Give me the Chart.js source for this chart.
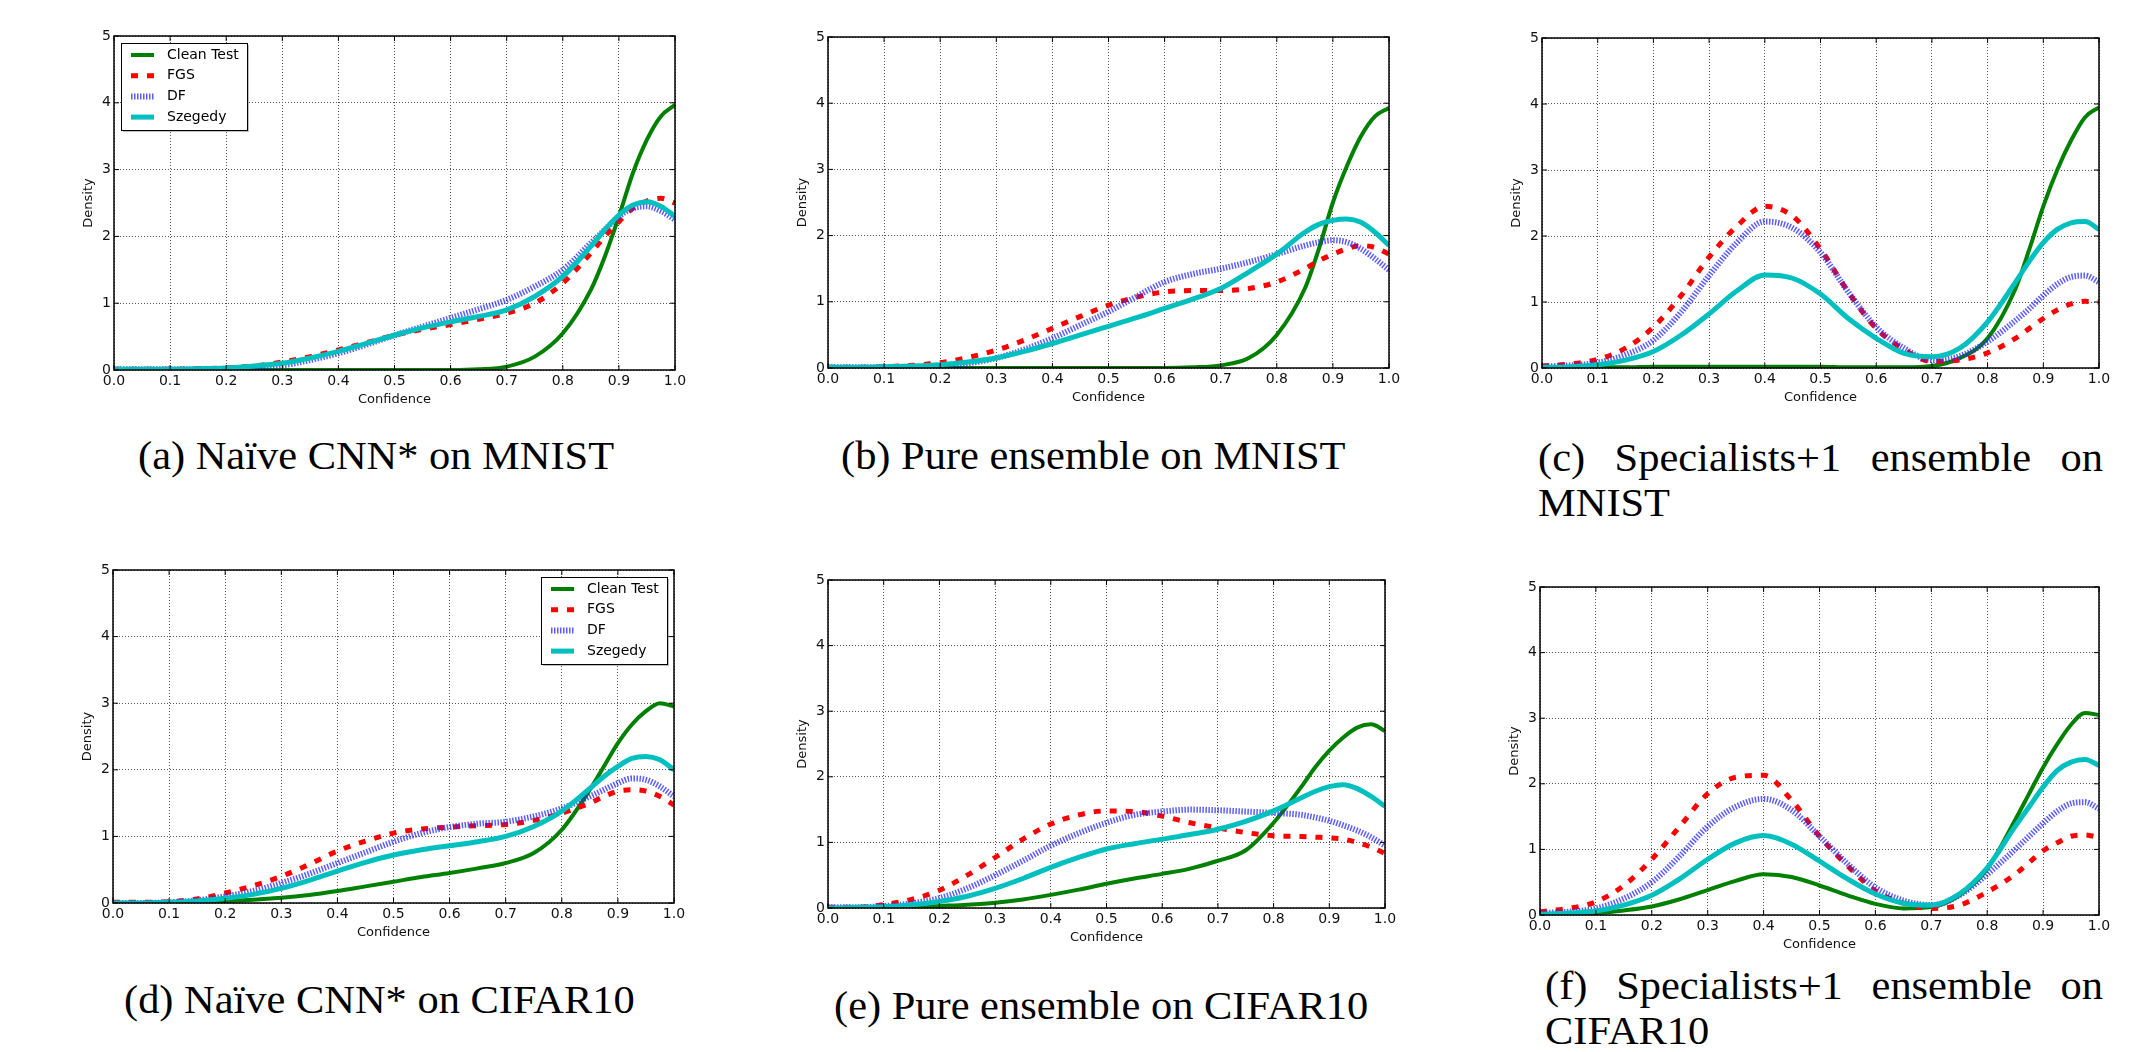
<!DOCTYPE html>
<html>
<head>
<meta charset="utf-8">
<script src="https://cdn.jsdelivr.net/npm/chart.js@4.4.1/dist/chart.umd.min.js"></script>
<style>
  html, body { margin: 0; padding: 0; background: #fff; }
  body { width: 2151px; height: 1052px; position: relative; overflow: hidden; }
  canvas { position: absolute; }
  .cap {
    position: absolute;
    font-family: "Liberation Serif", "Times New Roman", serif;
    font-size: 41px;
    line-height: 44px;
    white-space: nowrap;
    color: #000;
    transform: scaleX(1.035);
    transform-origin: 0 0;
  }
  .just { text-align: justify; text-align-last: justify; }
</style>
</head>
<body>
<div id="captions"></div>
<script>
// x grid shared by every curve (confidence)
const confidence = [0, 0.05, 0.1, 0.15, 0.2, 0.25, 0.3, 0.35, 0.4, 0.45, 0.5, 0.55,
  0.6, 0.65, 0.7, 0.75, 0.8, 0.85, 0.875, 0.9, 0.925, 0.95, 0.975, 1.0];
const seriesNames = ["Clean Test", "FGS", "DF", "Szegedy"];

// (a) Naive CNN* on MNIST
const cleanA = [0, 0, 0, 0, 0, 0, 0, 0, 0, 0, 0, 0, 0, 0.01, 0.05, 0.2, 0.55, 1.2, 1.7, 2.3, 2.95, 3.45, 3.8, 3.97];
const fgsA   = [0.01, 0.01, 0.01, 0.02, 0.03, 0.06, 0.12, 0.2, 0.3, 0.41, 0.52, 0.61, 0.68, 0.76, 0.85, 1.0, 1.3, 1.75, 2.0, 2.22, 2.42, 2.53, 2.57, 2.5];
const dfA    = [0.01, 0.01, 0.01, 0.01, 0.02, 0.04, 0.07, 0.15, 0.25, 0.38, 0.52, 0.65, 0.78, 0.91, 1.05, 1.25, 1.5, 1.9, 2.1, 2.3, 2.42, 2.45, 2.38, 2.25];
const szA    = [0.01, 0.01, 0.01, 0.02, 0.03, 0.06, 0.1, 0.18, 0.28, 0.4, 0.52, 0.63, 0.72, 0.8, 0.9, 1.1, 1.4, 1.85, 2.1, 2.32, 2.47, 2.52, 2.45, 2.3];

// (b) Pure ensemble on MNIST
const cleanB = [0, 0, 0, 0, 0, 0, 0, 0, 0, 0, 0, 0, 0, 0.01, 0.04, 0.15, 0.5, 1.2, 1.8, 2.5, 3.05, 3.5, 3.8, 3.93];
const fgsB   = [0.01, 0.01, 0.02, 0.04, 0.08, 0.16, 0.27, 0.42, 0.6, 0.78, 0.95, 1.07, 1.15, 1.17, 1.17, 1.2, 1.3, 1.5, 1.62, 1.72, 1.8, 1.85, 1.82, 1.72];
const dfB    = [0.01, 0.01, 0.01, 0.01, 0.03, 0.07, 0.15, 0.28, 0.45, 0.65, 0.85, 1.08, 1.3, 1.42, 1.5, 1.6, 1.72, 1.85, 1.9, 1.93, 1.9, 1.8, 1.65, 1.48];
const szB    = [0.01, 0.01, 0.02, 0.03, 0.05, 0.09, 0.15, 0.25, 0.37, 0.5, 0.63, 0.76, 0.9, 1.04, 1.2, 1.45, 1.72, 2.05, 2.17, 2.23, 2.25, 2.2, 2.05, 1.85];

// (c) Specialists+1 ensemble on MNIST
const cleanC = [0, 0.01, 0.01, 0.01, 0.02, 0.02, 0.02, 0.02, 0.02, 0.02, 0.02, 0.01, 0.01, 0.01, 0.03, 0.15, 0.45, 1.2, 1.8, 2.45, 3.0, 3.45, 3.8, 3.95];
const fgsC   = [0.03, 0.06, 0.13, 0.3, 0.62, 1.1, 1.68, 2.15, 2.45, 2.3, 1.8, 1.15, 0.6, 0.28, 0.1, 0.12, 0.23, 0.45, 0.6, 0.75, 0.88, 0.97, 1.01, 1.0];
const dfC    = [0.02, 0.04, 0.08, 0.2, 0.42, 0.85, 1.4, 1.9, 2.22, 2.12, 1.75, 1.15, 0.62, 0.3, 0.12, 0.18, 0.4, 0.72, 0.9, 1.1, 1.27, 1.38, 1.4, 1.3];
const szC    = [0.01, 0.02, 0.05, 0.12, 0.25, 0.5, 0.82, 1.17, 1.41, 1.36, 1.12, 0.75, 0.45, 0.22, 0.17, 0.3, 0.7, 1.3, 1.62, 1.9, 2.1, 2.2, 2.22, 2.1];

// (d) Naive CNN* on CIFAR10
const cleanD = [0, 0, 0.01, 0.02, 0.03, 0.05, 0.08, 0.12, 0.18, 0.25, 0.32, 0.39, 0.45, 0.52, 0.6, 0.75, 1.1, 1.7, 2.05, 2.4, 2.68, 2.88, 3.0, 2.95];
const fgsD   = [0.01, 0.01, 0.02, 0.06, 0.15, 0.26, 0.4, 0.58, 0.78, 0.93, 1.05, 1.11, 1.14, 1.16, 1.18, 1.24, 1.35, 1.5, 1.6, 1.68, 1.7, 1.68, 1.6, 1.47];
const dfD    = [0, 0, 0.01, 0.04, 0.1, 0.18, 0.3, 0.44, 0.6, 0.76, 0.92, 1.05, 1.14, 1.19, 1.22, 1.3, 1.42, 1.6, 1.7, 1.8, 1.87, 1.85, 1.75, 1.6];
const szD    = [0, 0, 0.01, 0.03, 0.07, 0.13, 0.22, 0.34, 0.48, 0.61, 0.72, 0.8, 0.86, 0.92, 1.0, 1.15, 1.38, 1.72, 1.9, 2.05, 2.17, 2.2, 2.15, 2.0];

// (e) Pure ensemble on CIFAR10
const cleanE = [0, 0, 0, 0.01, 0.03, 0.05, 0.08, 0.13, 0.2, 0.28, 0.37, 0.45, 0.52, 0.6, 0.72, 0.88, 1.3, 1.85, 2.15, 2.4, 2.6, 2.75, 2.8, 2.7];
const fgsE   = [0.01, 0.01, 0.05, 0.13, 0.27, 0.5, 0.77, 1.05, 1.28, 1.42, 1.48, 1.47, 1.4, 1.3, 1.22, 1.15, 1.1, 1.09, 1.08, 1.07, 1.05, 1.0, 0.93, 0.83];
const dfE    = [0.01, 0.01, 0.03, 0.07, 0.15, 0.3, 0.5, 0.72, 0.95, 1.14, 1.3, 1.42, 1.47, 1.5, 1.49, 1.47, 1.45, 1.42, 1.38, 1.33, 1.26, 1.18, 1.08, 0.95];
const szE    = [0, 0.01, 0.02, 0.05, 0.1, 0.18, 0.3, 0.45, 0.62, 0.77, 0.9, 0.98, 1.05, 1.12, 1.2, 1.32, 1.48, 1.68, 1.78, 1.85, 1.88, 1.82, 1.7, 1.55];

// (f) Specialists+1 ensemble on CIFAR10
const cleanF = [0, 0.01, 0.03, 0.07, 0.13, 0.24, 0.38, 0.52, 0.62, 0.58, 0.45, 0.3, 0.17, 0.1, 0.12, 0.3, 0.7, 1.45, 1.85, 2.25, 2.6, 2.9, 3.08, 3.05];
const fgsF   = [0.05, 0.1, 0.2, 0.45, 0.85, 1.35, 1.85, 2.1, 2.13, 1.75, 1.2, 0.75, 0.37, 0.18, 0.1, 0.15, 0.35, 0.62, 0.8, 0.98, 1.1, 1.2, 1.22, 1.18];
const dfF    = [0.03, 0.05, 0.1, 0.25, 0.5, 0.9, 1.35, 1.65, 1.77, 1.6, 1.2, 0.78, 0.42, 0.22, 0.15, 0.3, 0.62, 1.0, 1.2, 1.4, 1.58, 1.7, 1.72, 1.62];
const szF    = [0.01, 0.03, 0.06, 0.15, 0.3, 0.55, 0.85, 1.1, 1.21, 1.08, 0.82, 0.55, 0.32, 0.18, 0.15, 0.32, 0.72, 1.35, 1.65, 1.95, 2.2, 2.33, 2.37, 2.28];

const lineStyles = [
  { color: "#008000", width: 4, dash: [] },                      // Clean Test
  { color: "#ff0000", width: 5, dash: [7, 9] },                  // FGS
  { color: "rgba(40,40,255,0.75)", width: 6, dash: [1.5, 1.5] },  // DF
  { color: "#00bfbf", width: 5, dash: [] }                       // Szegedy
];

// plot area boxes [left, top, right, bottom] in page px
const panels = [
  { box: [114, 36, 675, 370], series: [cleanA, fgsA, dfA, szA], legend: "left" },
  { box: [828, 37, 1389, 368], series: [cleanB, fgsB, dfB, szB] },
  { box: [1542, 38, 2099, 368], series: [cleanC, fgsC, dfC, szC] },
  { box: [113, 570, 674, 903], series: [cleanD, fgsD, dfD, szD], legend: "right" },
  { box: [828, 580, 1385, 908], series: [cleanE, fgsE, dfE, szE] },
  { box: [1540, 587, 2099, 915], series: [cleanF, fgsF, dfF, szF] }
];

const captions = [
  { lines: ["(a) Naïve CNN* on MNIST"], left: 138, top: 433 },
  { lines: ["(b) Pure ensemble on MNIST"], left: 841, top: 433 },
  { lines: ["(c) Specialists+1 ensemble on", "MNIST"], left: 1538, top: 435, width: 565 },
  { lines: ["(d) Naïve CNN* on CIFAR10"], left: 124, top: 977 },
  { lines: ["(e) Pure ensemble on CIFAR10"], left: 834, top: 983 },
  { lines: ["(f) Specialists+1 ensemble on", "CIFAR10"], left: 1545, top: 963, width: 558 }
];
const capScale = 1.035;

const tickFont = { family: "DejaVu Sans", size: 14 };
const titleFont = { family: "DejaVu Sans", size: 13 };

// frame, inward ticks and the inside legend, like the old matplotlib look
const framePlugin = {
  id: "frameBox",
  afterDatasetsDraw(chart, args, opts) {
    const { ctx, chartArea: a, scales } = chart;
    ctx.save();
    ctx.setLineDash([]);
    ctx.strokeStyle = "#000";
    ctx.lineWidth = 1.5;
    ctx.strokeRect(a.left, a.top, a.right - a.left, a.bottom - a.top);
    ctx.lineWidth = 1;
    ctx.beginPath();
    scales.x.ticks.forEach(t => {
      const px = scales.x.getPixelForValue(t.value);
      ctx.moveTo(px, a.bottom); ctx.lineTo(px, a.bottom - 5);
      ctx.moveTo(px, a.top); ctx.lineTo(px, a.top + 5);
    });
    scales.y.ticks.forEach(t => {
      const py = scales.y.getPixelForValue(t.value);
      ctx.moveTo(a.left, py); ctx.lineTo(a.left + 5, py);
      ctx.moveTo(a.right, py); ctx.lineTo(a.right - 5, py);
    });
    ctx.stroke();

    if (opts.legend) {
      const w = 126, h = 87;
      const x0 = opts.legend === "left" ? a.left + 7 : a.right - 7 - w;
      const y0 = a.top + 7;
      ctx.fillStyle = "rgba(0,0,0,0.25)";
      ctx.fillRect(x0 + 2, y0 + 2, w, h);
      ctx.fillStyle = "#fff";
      ctx.fillRect(x0, y0, w, h);
      ctx.strokeStyle = "#000";
      ctx.lineWidth = 1;
      ctx.strokeRect(x0 + 0.5, y0 + 0.5, w, h);
      ctx.font = "14px 'DejaVu Sans'";
      ctx.textBaseline = "middle";
      seriesNames.forEach((name, i) => {
        const st = lineStyles[i];
        const y = y0 + 12 + i * 20.7;
        ctx.strokeStyle = st.color;
        ctx.lineWidth = st.width;
        ctx.setLineDash(st.dash);
        ctx.beginPath();
        ctx.moveTo(x0 + 10, y);
        ctx.lineTo(x0 + 33, y);
        ctx.stroke();
        ctx.setLineDash([]);
        ctx.fillStyle = "#000";
        ctx.fillText(name, x0 + 46, y);
      });
    }
    ctx.restore();
  }
};

function buildConfig(p) {
  return {
    type: "line",
    data: {
      datasets: seriesNames.map((name, i) => ({
        label: name,
        data: confidence.map((x, j) => ({ x: x, y: p.series[i][j] })),
        borderColor: lineStyles[i].color,
        borderWidth: lineStyles[i].width,
        borderDash: lineStyles[i].dash,
        borderCapStyle: "butt",
        pointRadius: 0,
        fill: false,
        cubicInterpolationMode: "monotone",
        clip: 0,
        order: 3 - i
      }))
    },
    options: {
      responsive: false,
      maintainAspectRatio: false,
      animation: false,
      devicePixelRatio: 1,
      layout: { padding: { top: 12, right: 22, left: 0, bottom: 0 } },
      plugins: {
        legend: { display: false },
        tooltip: { enabled: false },
        frameBox: { legend: p.legend }
      },
      scales: {
        x: {
          type: "linear",
          min: 0,
          max: 1,
          afterFit: s => { s.height = 37; },
          ticks: {
            stepSize: 0.1,
            autoSkip: false,
            maxRotation: 0,
            padding: 3,
            color: "#111",
            font: tickFont,
            callback: v => v.toFixed(1)
          },
          grid: { color: "#555", lineWidth: 1, drawTicks: false },
          border: { display: false, dash: [1, 2] },
          title: { display: true, text: "Confidence", font: titleFont, color: "#111", padding: 0 }
        },
        y: {
          min: 0,
          max: 5,
          afterFit: s => { s.width = 33; },
          ticks: {
            stepSize: 1,
            padding: 3,
            color: "#111",
            font: tickFont
          },
          grid: { color: "#555", lineWidth: 1, drawTicks: false },
          border: { display: false, dash: [1, 2] },
          title: { display: true, text: "Density", font: titleFont, color: "#111", padding: 0 }
        }
      }
    },
    plugins: [framePlugin]
  };
}

panels.forEach(p => {
  const [l, t, r, b] = p.box;
  const canvas = document.createElement("canvas");
  document.body.appendChild(canvas);
  // first pass to learn the margins around the plot area
  canvas.width = 700; canvas.height = 420;
  let chart = new Chart(canvas, buildConfig(p));
  const a = chart.chartArea;
  const mL = a.left, mT = a.top, mR = chart.width - a.right, mB = chart.height - a.bottom;
  chart.destroy();
  canvas.width = (r - l) + mL + mR;
  canvas.height = (b - t) + mT + mB;
  canvas.style.width = canvas.width + "px";
  canvas.style.height = canvas.height + "px";
  chart = new Chart(canvas, buildConfig(p));
  canvas.style.left = (l - chart.chartArea.left) + "px";
  canvas.style.top = (t - chart.chartArea.top) + "px";
});

const capBox = document.getElementById("captions");
captions.forEach(c => {
  c.lines.forEach((txt, k) => {
    const d = document.createElement("div");
    d.className = "cap";
    d.textContent = txt;
    d.style.left = c.left + "px";
    d.style.top = (c.top + k * 45) + "px";
    if (c.width && k === 0) {
      d.classList.add("just");
      d.style.width = (c.width / capScale) + "px";
    }
    capBox.appendChild(d);
  });
});
</script>
</body>
</html>
